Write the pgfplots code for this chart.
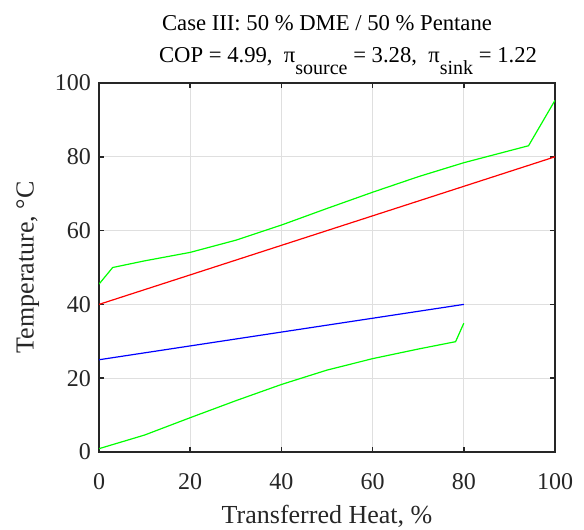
\documentclass[border=0pt]{standalone}
\usepackage{pgfplots}
\pgfplotsset{compat=1.18}
\usepackage{fontspec}
\setmainfont{Liberation Serif}
\definecolor{axgray}{RGB}{38,38,38}
\newcommand{\sub}[1]{\raisebox{-9pt}{\fontsize{15}{15}\selectfont #1}}
\begin{document}
\begin{tikzpicture}
\useasboundingbox (-74.25pt,-57.75pt) rectangle (363.75pt,339pt);
\begin{axis}[
  at={(0,0)}, anchor=south west,
  scale only axis, width=342pt, height=276.75pt,
  xmin=0, xmax=100, ymin=0, ymax=100,
  xtick={0,20,...,100}, ytick={0,20,...,100},
  tick align=inside, tick pos=both,
  major tick length=4pt,
  grid=major, grid style={gray!25, line width=0.6pt},
  axis line style={axgray, line width=1.3pt},
  tick style={axgray, line width=1.3pt},
  /pgf/number format/assume math mode=true,
  ticklabel style={font=\fontsize{18}{20}\selectfont, text=axgray},
  xticklabel style={yshift=-12.5pt},
  yticklabel style={xshift=-2.5pt},
  xlabel={Transferred Heat, \%},
  ylabel={Temperature, °C},
  label style={font=\fontsize{19.5}{22}\selectfont, text=axgray},
  xlabel style={yshift=-4.5pt},
  ylabel style={yshift=5pt},
  title style={font=\fontsize{17}{24}\selectfont, align=center, text=black, yshift=-3pt},
  title={Case III: 50 \% DME / 50 \% Pentane\\\hspace*{31.5pt}COP = 4.99,\ \ π\sub{source} = 3.28,\ \ π\sub{sink} = 1.22},
]
\addplot[red, line width=0.9pt] coordinates {(0,40) (100,80)};
\addplot[blue, line width=0.9pt] coordinates {(0,25) (80,40)};
\addplot[green, line width=0.9pt] coordinates {
(0,45.5) (3,50) (10,51.8) (20,54.1) (30,57.4) (40,61.5) (50,66.0) (60,70.4) (70,74.6) (80,78.4) (94.2,83.0) (100,95.3)};
\addplot[green, line width=0.9pt] coordinates {
(0,0.9) (10,4.6) (20,9.3) (30,13.9) (40,18.3) (50,22.2) (60,25.3) (70,27.9) (78.2,29.9) (80,34.9)};
\end{axis}
\end{tikzpicture}
\end{document}
